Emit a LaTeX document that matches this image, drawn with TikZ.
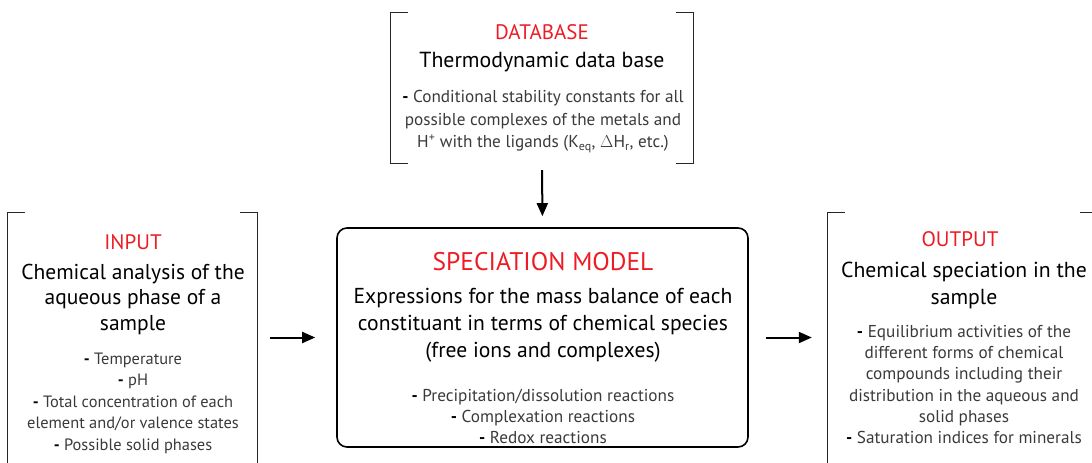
\documentclass[tikz,border=0pt]{standalone}
\usepackage{fontspec}
\setmainfont{PT Sans}
\usetikzlibrary{arrows.meta}
\definecolor{tred}{RGB}{237,28,36}
\definecolor{tgray}{RGB}{58,58,58}
\newcommand{\bl}{{\color{black}\bfseries -}}
\tikzset{
  ttl/.style={text=tred, font=\fontsize{21}{25}\selectfont, inner sep=0pt},
  bigttl/.style={text=tred, font=\fontsize{25.5}{31}\selectfont, inner sep=0pt},
  mainline/.style={text=black, align=center, inner sep=0pt},
  bullets/.style={text=tgray, align=center, inner sep=0pt},
  frame/.style={draw=none, inner sep=0pt},
  brk/.style={line width=1pt, draw=black!85},
  flow/.style={line width=2pt, -{Triangle[length=13pt,width=11pt]}},
}
\begin{document}
\begin{tikzpicture}[x=1pt,y=-1pt]
\useasboundingbox (0,0) rectangle (1092,463);
\clip (0,0) rectangle (1092,463);
% frames
\node[frame, minimum width=302pt, minimum height=150pt] (db) at (542,88) {};
\node[frame, minimum width=249pt, minimum height=260pt] (inp) at (132.5,343) {};
\node[frame, minimum width=269pt, minimum height=260pt] (out) at (962.5,343) {};
\node[draw, line width=1.6pt, rounded corners=10pt, minimum width=411pt, minimum height=219pt, inner sep=0pt] (model) at (542.5,337.5) {};
% brackets
\draw[brk] ([xshift=17pt]db.north west) -- (db.north west) -- (db.south west) -- ([xshift=17pt]db.south west);
\draw[brk] ([xshift=-17pt]db.north east) -- (db.north east) -- (db.south east) -- ([xshift=-17pt]db.south east);
\draw[brk] ([xshift=17pt]inp.north west) -- (inp.north west) -- (inp.south west);
\draw[brk] ([xshift=-17pt]inp.north east) -- (inp.north east) -- (inp.south east);
\draw[brk] ([xshift=17pt]out.north west) -- (out.north west) -- (out.south west);
\draw[brk] ([xshift=-17pt]out.north east) -- (out.north east) -- (out.south east);
% database text
\node[ttl] (dbt) at (542,32) {DATABASE};
\node[mainline, font=\fontsize{21.8}{25}\selectfont] (dbm) at (542,62) {Thermodynamic data base};
\node[bullets, font=\fontsize{17.2}{22.5}\selectfont] (dbb) at (543,121.5) {\bl{} Conditional stability constants for all\\possible complexes of the metals and\\H\textsuperscript{+} with the ligands (K\textsubscript{eq}, $\Delta$H\textsubscript{r}, etc.)};
% input text
\node[ttl] (inpt) at (133,242) {INPUT};
\node[mainline, font=\fontsize{21.5}{25.5}\selectfont] (inpm) at (133,299) {Chemical analysis of the\\aqueous phase of a\\sample};
\node[bullets, font=\fontsize{16.4}{21.5}\selectfont] (inpb) at (133,403) {\bl{} Temperature\\\bl{} pH\\\bl{} Total concentration of each\\element and/or valence states\\\bl{} Possible solid phases};
% model text
\node[bigttl] (modt) at (543,262) {SPECIATION MODEL};
\node[mainline, font=\fontsize{21.6}{27}\selectfont] (modm) at (543,325.5) {Expressions for the mass balance of each\\constituant in terms of chemical species\\(free ions and complexes)};
\node[bullets, font=\fontsize{17.2}{21}\selectfont] (modb) at (543,416.5) {\bl{} Precipitation/dissolution reactions\\\bl{} Complexation reactions\\\bl{} Redox reactions};
% output text
\node[ttl] (outt) at (960,239) {OUTPUT};
\node[mainline, font=\fontsize{21.7}{27}\selectfont] (outm) at (964,285.5) {Chemical speciation in the\\sample};
\node[bullets, font=\fontsize{17.2}{21.2}\selectfont] (outb) at (964,384.5) {\bl{} Equilibrium activities of the\\different forms of chemical\\compounds including their\\distribution in the aqueous and\\solid phases\\\bl{} Saturation indices for minerals};
% arrows
\draw[flow, shorten <=7pt, shorten >=11pt] (db.south) -- (model.north);
\draw[flow, shorten <=13pt, shorten >=21pt] (inp.east |- model.west) -- (model.west);
\draw[flow, shorten <=17pt, shorten >=16pt] (model.east) -- (out.west |- model.east);
\end{tikzpicture}
\end{document}
